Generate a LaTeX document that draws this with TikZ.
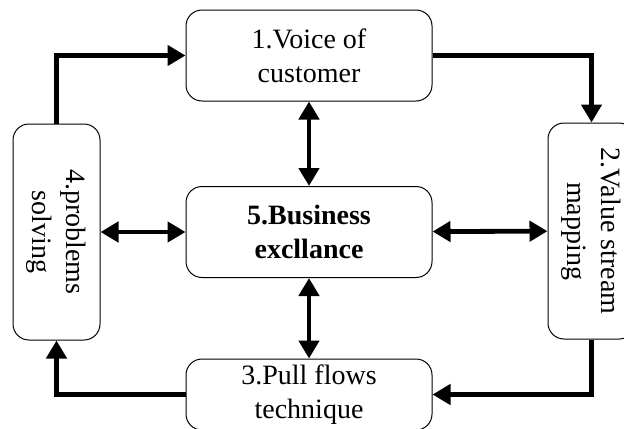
\documentclass[tikz,border=0pt]{standalone}
\usepackage{fontspec}
\setmainfont{Liberation Serif}
\usetikzlibrary{arrows.meta}
\tikzset{
   stage/.style={draw, rounded corners=8pt, line width=0.5pt, align=center,
                 font=\fontsize{14}{17}\selectfont, inner sep=0pt,
                 minimum width=123pt, minimum height=45.5pt},
   sidestage/.style={stage, rotate=-90, minimum width=108pt, minimum height=43.5pt},
   flow/.style={line width=2.4pt, -{Triangle[length=9pt,width=10pt]}},
   link/.style={line width=2.4pt, {Triangle[length=9pt,width=10pt]}-{Triangle[length=9pt,width=10pt]}}
}
\begin{document}
\begin{tikzpicture}[x=0.5pt,y=-0.5pt]
\useasboundingbox (0,0) rectangle (624,428);

% stages
\node[stage] (voice) at (309,55.5) {1.Voice of\\customer};
\node[stage, font=\fontsize{14}{17}\selectfont\bfseries] (excel) at (309,232) {5.Business\\excllance};
\node[stage, minimum height=35.5pt] (pull) at (309,394.5) {3.Pull flows\\technique};
\node[sidestage] (solve) at (56.5,232) {4.problems\\solving};
\node[sidestage] (value) at (591.5,231) {2.Value stream\\mapping};

% cycle (side boxes are turned: west is their top, east their bottom)
\draw[flow] (solve.west) |- (voice.west);
\draw[flow] (voice.east) -| (value.west);
\draw[flow] (value.east) |- (pull.east);
\draw[flow] (pull.west) -| (solve.east);

% links to the centre
\path[link]
(excel) edge (voice)
        edge (pull)
        edge (solve)
        edge (value)
;

\end{tikzpicture}
\end{document}
